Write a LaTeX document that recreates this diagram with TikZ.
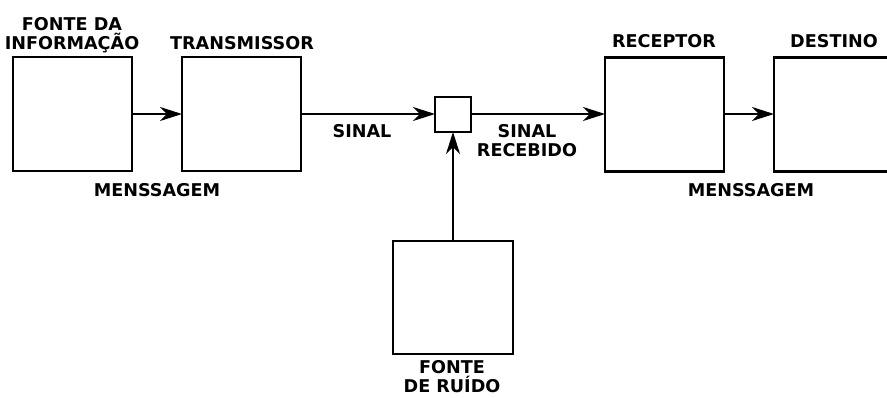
\documentclass[tikz,border=0pt]{standalone}
\usepackage{fontspec}
\setmainfont{DejaVu Sans}
\usetikzlibrary{arrows.meta}
\begin{document}
\begin{tikzpicture}[x=1pt,y=-1pt,
  blk/.style={draw, line width=2.6pt, minimum width=119pt, minimum height=114pt, inner sep=0pt, outer sep=0pt},
  lbl/.style={font=\bfseries\fontsize{17.6}{19}\selectfont, align=center, inner sep=0pt},
  conn/.style={line width=2.6pt, -{Stealth[length=22pt,width=14pt,inset=7pt]}}]
\useasboundingbox (0,0) rectangle (887,398);
\node[blk] (src) at (72.5,114) {};
\node[blk] (tx) at (241.5,114) {};
\node[draw, line width=2.6pt, minimum width=36pt, minimum height=35pt, inner sep=0pt, outer sep=0pt] (mix) at (453,114.5) {};
\node[blk] (rx) at (664.5,114.5) {};
\node[blk] (dst) at (833.5,114.5) {};
\node[blk, minimum width=120pt, minimum height=113pt] (noise) at (453,297.5) {};
\draw[conn] (src.east |- 0,114) -- (tx.west |- 0,114);
\draw[conn] (tx.east |- 0,114) -- (mix.west |- 0,114);
\draw[conn] (mix.east |- 0,114) -- (rx.west |- 0,114);
\draw[conn] (rx.east |- 0,114) -- (dst.west |- 0,114);
\draw[conn] (noise.north) -- (mix.south);
\node[lbl] (l1) at (72,35) {FONTE DA\\INFORMAÇÃO};
\node[lbl] (l2) at (242,43) {TRANSMISSOR};
\node[lbl] (l3) at (157,190) {MENSSAGEM};
\node[lbl] (l4) at (362,131) {SINAL};
\node[lbl] (l5) at (527,141) {SINAL\\RECEBIDO};
\node[lbl] (l6) at (664,41) {RECEPTOR};
\node[lbl] (l7) at (834,41) {DESTINO};
\node[lbl] (l8) at (751,190) {MENSSAGEM};
\node[lbl] (l9) at (452,377) {FONTE\\DE RUÍDO};
\end{tikzpicture}
\end{document}
